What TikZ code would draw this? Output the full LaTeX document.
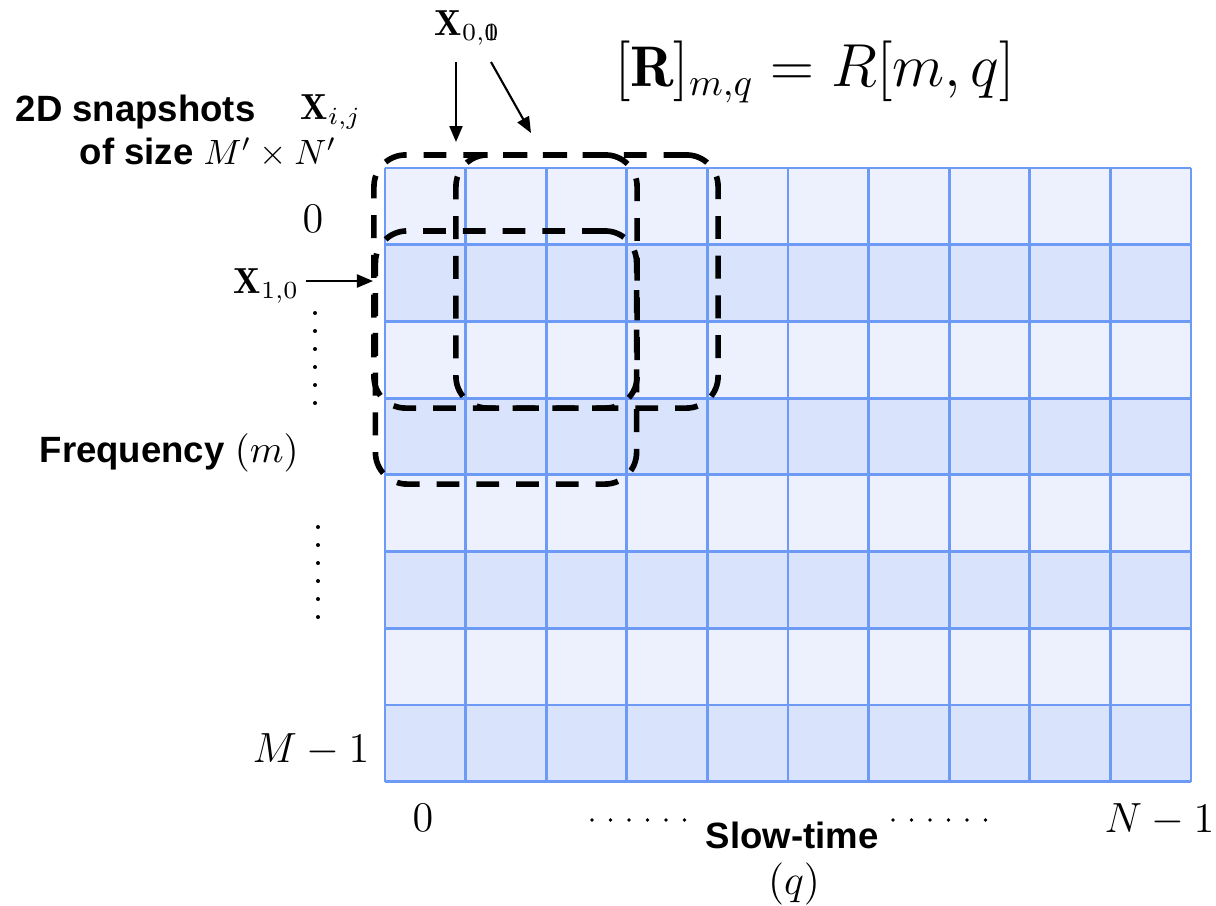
\documentclass[tikz,border=0pt]{standalone}
\usepackage{fontspec}
\setsansfont{Liberation Sans}
\usepackage{amsmath}
\usepackage{mathtools}
\usetikzlibrary{arrows.meta}
\definecolor{cellA}{RGB}{237,241,254}
\definecolor{cellB}{RGB}{217,227,252}
\definecolor{gridc}{RGB}{108,154,245}
\begin{document}
\begin{tikzpicture}[x=0.01cm,y=-0.01cm,
  gridline/.style={gridc,line width=0.8pt},
  snap/.style={draw=black,line width=1.6pt,dash pattern=on 6.5pt off 4.8pt,rounded corners=9pt,inner sep=0pt,fill=none},
  arr/.style={line width=0.6pt,-{Triangle[length=1.6mm,width=1.3mm]}},
  lbl/.style={inner sep=0pt,font=\sffamily\bfseries\fontsize{10.4}{12}\selectfont},
  mlbl/.style={inner sep=0pt,font=\fontsize{10.3}{12}\selectfont},
  axl/.style={inner sep=0pt,font=\fontsize{11.5}{13}\selectfont},
  dot/.style={fill=black,draw=none}]
\useasboundingbox (0,0) rectangle (1216,905);
% grid cells
\foreach \r in {0,2,4,6} \fill[cellA] (385,{168+\r*76.7}) rectangle (1191,{168+(\r+1)*76.7});
\foreach \r in {1,3,5,7} \fill[cellB] (385,{168+\r*76.7}) rectangle (1191,{168+(\r+1)*76.7});
\foreach \c in {0,...,10} \draw[gridline] ({385+\c*80.6},168) -- ({385+\c*80.6},781.6);
\foreach \r in {0,...,8} \draw[gridline] (385,{168+\r*76.7}) -- (1191,{168+\r*76.7});
% snapshot boxes
\node[snap,minimum width=2.63cm,minimum height=2.53cm] (box00) at (505.5,281.5) {};
\node[snap,minimum width=2.62cm,minimum height=2.53cm] (box01) at (587,281.5) {};
\node[snap,minimum width=2.61cm,minimum height=2.53cm] (box10) at (506,357.5) {};
% labels
\node[mlbl,anchor=base west] (lab00) at (434,35) {$\mathbf{X}_{0,\mathrlap{0}1}$};
\node[inner sep=0pt,anchor=base,font=\fontsize{16.3}{19}\selectfont] (formula) at (815,86) {$[\mathbf{R}]_{m,q}=R[m,q]$};
\node[lbl,anchor=base west] (snap1) at (15,121) {2D snapshots};
\node[mlbl,anchor=base west] (xij) at (300,119) {$\mathbf{X}_{i,j}$};
\node[lbl,anchor=base west] (snap2) at (79,164) {of size \fontseries{m}\fontsize{10.3}{12}\selectfont$M'\times N'$};
\node[axl] (row0) at (313,219) {$0$};
\node[mlbl,anchor=base west] (lab10) at (233,293) {$\mathbf{X}_{1,0}$};
\node[lbl,anchor=base west] (freq) at (39,462) {Frequency \fontseries{m}\fontsize{11}{12}\selectfont$(m)$};
\node[axl,anchor=base west] (rowM) at (252,762) {$M-1$};
\node[axl] (col0) at (423,818) {$0$};
\node[axl,anchor=base east] (colN) at (1215,832) {$N-1$};
\node[lbl,anchor=base west] (slow) at (705,848) {Slow-time};
\node[inner sep=0pt,font=\fontsize{13}{15}\selectfont] (qlab) at (794,884) {$(q)$};
% dots
\foreach \y in {313,331,349,367,385,403} \fill[dot] (315,\y) circle (0.2mm);
\foreach \y in {527,545,563,581,599,617} \fill[dot] (318,\y) circle (0.2mm);
\foreach \x in {592,610.5,629,647.5,666,684.5} \fill[dot] (\x,820) circle (0.19mm);
\foreach \x in {893,911.5,930,948.5,967,985.5} \fill[dot] (\x,820) circle (0.19mm);
% arrows
\coordinate (a1s) at (456,62);
\coordinate (a1e) at (456,142);
\coordinate (a2s) at (491,62);
\coordinate (a2e) at (531,133);
\coordinate (a3s) at (306,281);
\coordinate (a3e) at (373,281);
\draw[arr] (a1s) -- (a1e);
\draw[arr] (a2s) -- (a2e);
\draw[arr] (a3s) -- (a3e);
\end{tikzpicture}
\end{document}
